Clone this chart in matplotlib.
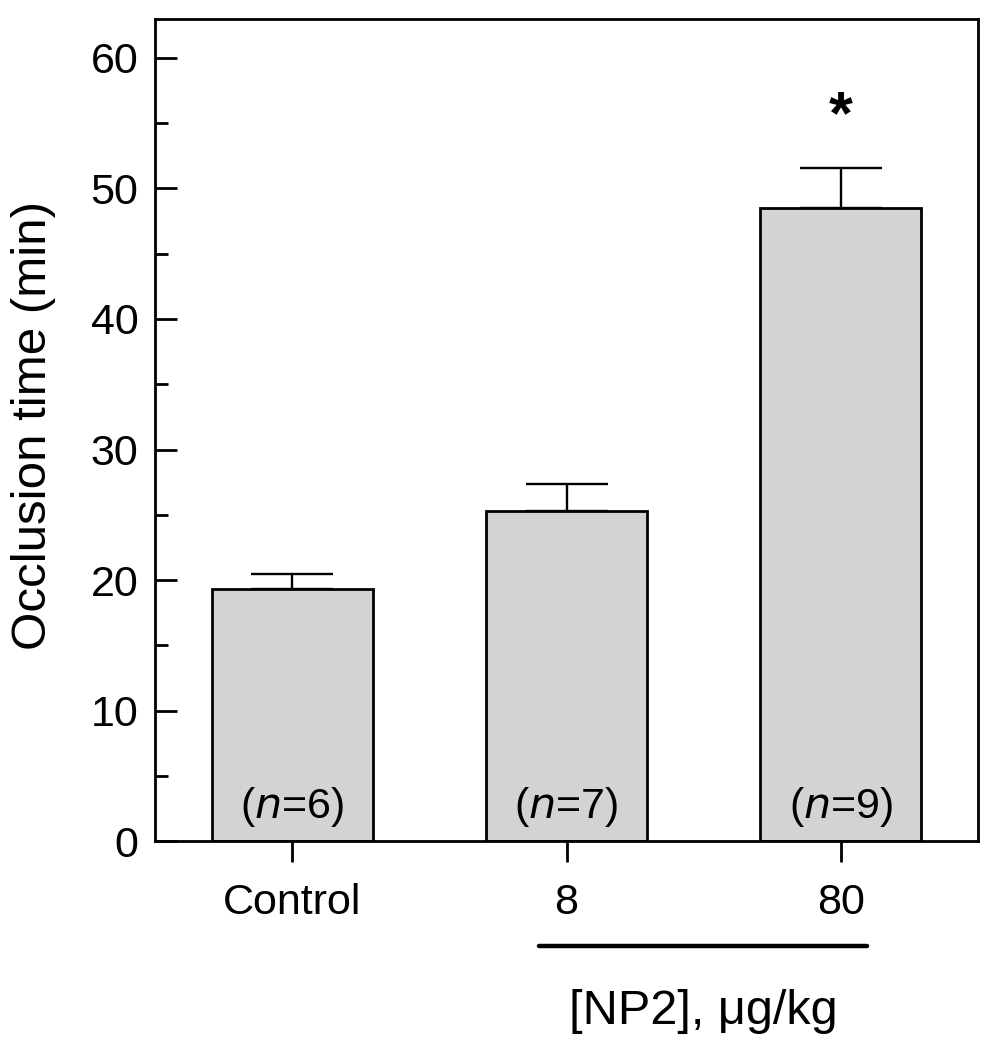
import matplotlib
matplotlib.use("Agg")
import matplotlib.pyplot as plt
from matplotlib.ticker import MultipleLocator

plt.rcParams['font.family'] = ['Liberation Sans', 'DejaVu Sans']

categories = ["Control", "8", "80"]
means = [19.3, 25.3, 48.5]
sems = [1.2, 2.1, 3.1]
n_labels = ["6", "7", "9"]

fig = plt.figure(figsize=(9.9, 10.5), dpi=100)
ax = fig.add_axes([0.1566, 0.1988, 0.8313, 0.7834])

x = list(range(len(categories)))
ax.bar(x, means, width=0.587, color="#d3d3d3", edgecolor="black", linewidth=2, zorder=2)
ax.errorbar(x, means, yerr=[[0]*len(sems), sems], fmt='none', ecolor='black',
            elinewidth=1.7, capsize=29.5, capthick=1.7, zorder=1)

for xi, n in zip(x, n_labels):
    ax.text(xi, 2.6, r"($\it{n}$=" + n + ")", ha='center', va='center', fontsize=31)

ax.text(2, 55.4, "*", ha='center', va='center', fontsize=44, fontweight='bold')

ax.set_xlim(-0.5, 2.5)
ax.set_ylim(0, 63)
ax.set_xticks(x)
ax.set_xticklabels(categories, fontsize=31)
ax.yaxis.set_major_locator(MultipleLocator(10))
ax.yaxis.set_minor_locator(MultipleLocator(5))
ax.tick_params(axis='y', which='major', direction='in', length=16, width=2, labelsize=31, pad=12)
ax.tick_params(axis='y', which='minor', direction='in', length=9, width=2)
ax.tick_params(axis='x', which='major', direction='out', length=15, width=2, pad=15)
for s in ax.spines.values():
    s.set_linewidth(2)

fig.text(34 / 990, 1 - 425 / 1050, "Occlusion time (min)", rotation=90,
         ha='center', va='center', fontsize=35.5)

ax.plot([0.90, 2.095], [-0.127, -0.127], color='black', linewidth=3.2,
        transform=ax.get_xaxis_transform(), clip_on=False, solid_capstyle='round')
ax.text(1.5, -0.207, "[NP2], μg/kg", ha='center', va='center', fontsize=35,
        transform=ax.get_xaxis_transform())

fig.savefig("out.png", dpi=100)
